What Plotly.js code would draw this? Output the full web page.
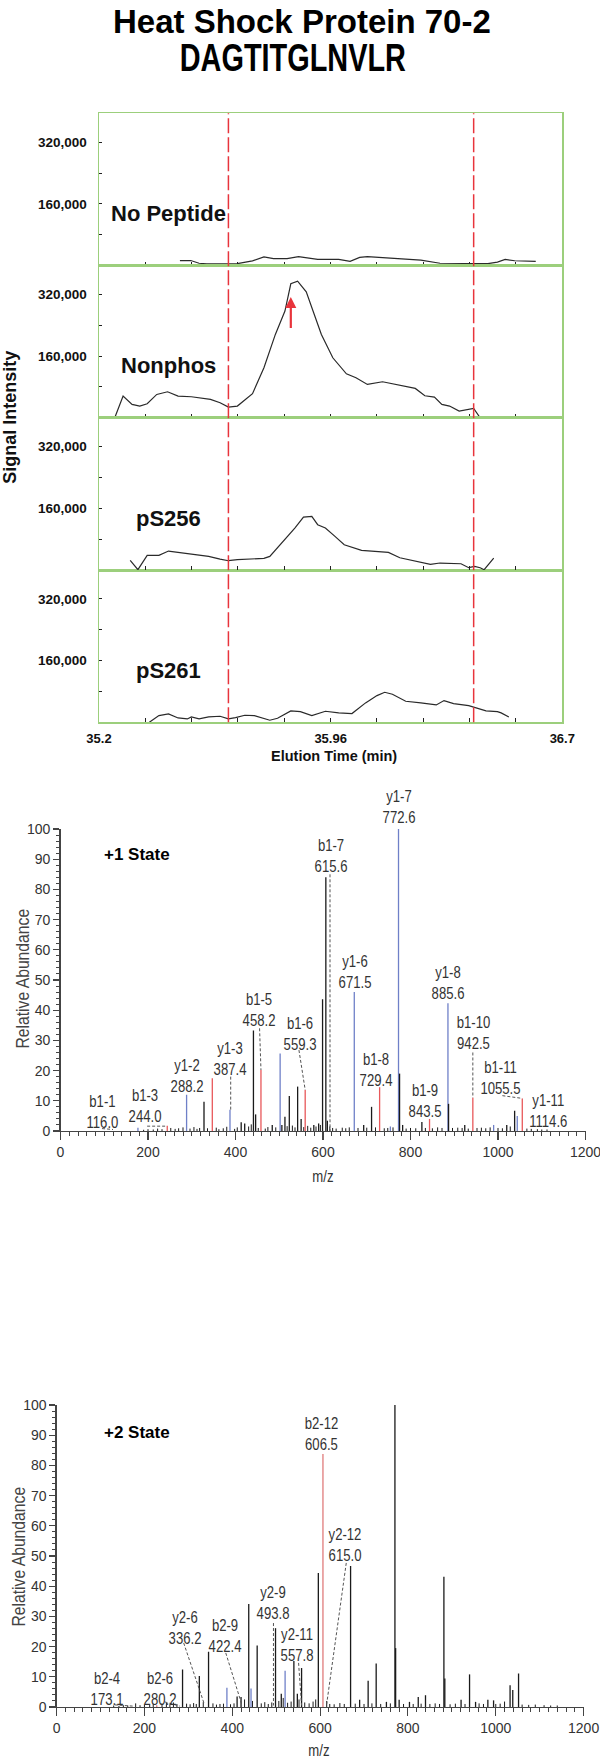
<!DOCTYPE html>
<html>
<head>
<meta charset="utf-8">
<script src="https://cdn.plot.ly/plotly-3.0.1.min.js"></script>
<style>html,body{margin:0;padding:0;background:#fff}#chart{width:600px;height:1760px}</style>
</head>
<body>
<div id="chart"></div>
<script>
// ---------------- DATA ----------------
const titleLine1 = 'Heat Shock Protein 70-2';
const titleLine2 = 'DAGTITGLNVLR';
const panelNames = ['No Peptide', 'Nonphos', 'pS256', 'pS261'];

const timeNoPeptide = [35.462,35.497,35.524,35.549,35.610,35.648,35.697,35.734,35.765,35.809,35.846,35.871,35.908,35.945,35.976,36.013,36.044,36.069,36.106,36.156,36.205,36.242,36.304,36.366,36.416,36.459,36.490,36.515,36.546,36.577,36.614];
const sigNoPeptide  = [13000,13000,6000,4500,4500,5000,12000,22500,18000,18000,23000,20500,16000,16000,16000,11000,21000,23000,21000,18000,16000,14000,6000,5000,4500,5000,9000,16000,12500,11000,11000];

const timeNonphos = [35.251,35.278,35.307,35.332,35.356,35.387,35.422,35.456,35.499,35.524,35.561,35.592,35.619,35.648,35.697,35.734,35.771,35.802,35.821,35.843,35.871,35.895,35.920,35.957,36.001,36.032,36.069,36.118,36.156,36.205,36.224,36.255,36.286,36.310,36.335,36.366,36.391,36.413,36.434];
const sigNonphos  = [0,56200,34600,30300,36300,60500,67400,56200,54500,51900,47600,38900,27700,30300,62300,129700,216200,276700,347600,354500,326900,272400,216200,155600,114100,103800,86500,93400,86500,77800,76100,57100,53600,34600,30300,17300,21600,24200,0];

const timePS256 = [35.301,35.326,35.356,35.394,35.425,35.456,35.486,35.518,35.555,35.592,35.619,35.648,35.685,35.734,35.753,35.796,35.834,35.862,35.889,35.908,35.933,35.964,35.994,36.050,36.094,36.137,36.174,36.211,36.242,36.273,36.304,36.341,36.372,36.397,36.416,36.434,36.447,36.478];
const sigPS256  = [25100,900,38000,38000,49300,45800,42400,38900,35500,28500,24200,26800,28500,30300,35500,74400,109000,137500,139200,117600,109000,87300,65700,51000,49300,45800,32000,25100,19900,14700,18200,18200,16400,6100,9500,6100,900,31100];

const timePS261 = [35.363,35.394,35.425,35.456,35.486,35.499,35.524,35.555,35.592,35.619,35.642,35.672,35.703,35.753,35.778,35.821,35.852,35.889,35.933,35.976,36.019,36.063,36.100,36.125,36.150,36.193,36.242,36.292,36.317,36.348,36.397,36.416,36.453,36.490,36.502,36.527];
const sigPS261  = [0,17300,21600,11200,8600,13800,8600,13800,15600,8600,12100,18200,17300,5200,10400,29400,27700,17300,28500,24200,22500,50200,69200,77800,72600,54500,50200,45000,56200,48400,43200,38900,29400,27700,24200,13800];

const windowTimes = [35.619, 36.413];          // red dashed integration window
const arrowTime = 35.821, arrowFrom = 229000, arrowTo = 313000;
const timeTickVals = [35.2, 35.95, 36.7];
const timeTickText = ['35.2', '35.96', '36.7'];
const sigTickVals = [160000, 320000];
const sigTickText = ['160,000', '320,000'];

// ---- +1 state spectrum ----
const s1BlueMz  = [177, 288.2, 387.4, 502, 671.5, 754, 772.6, 885.6, 990, 1044];
const s1BlueInt = [1.1, 12, 7, 25.7, 46, 1.5, 100, 42.3, 2, 5];
const s1RedMz   = [244, 347, 458.2, 559.3, 729.4, 843.5, 942.5, 1055.5];
const s1RedInt  = [1.7, 17.5, 20.2, 13.6, 14.5, 4, 11, 10.8];
const s1BlackMz  = [328, 413, 421, 441, 446, 484, 506, 513, 523, 542, 550, 579, 590, 599, 606.5, 610, 693, 711, 775, 782, 826, 887, 924, 1020, 1038];
const s1BlackInt = [9.7, 2.9, 2.5, 33.3, 5.5, 2, 2, 4.7, 11.6, 14.7, 4, 2, 2.5, 43.6, 84, 3.4, 2, 8, 19, 2, 3, 9, 2, 2, 6.7];
const s1NoiseMz  = [190,200,212,222,232,252,262,270,280,296,305,312,318,336,356,362,372,380,398,404,430,436,452,468,474,492,518,530,536,556,565,572,584,594,615.6,622,630,644,652,660,680,700,720,740,748,760,790,800,812,834,850,862,872,896,908,918,932,952,962,972,982,1000,1010,1028,1066,1076,1090,1100,1112];
const s1NoiseInt = [0.4,0.6,0.5,0.8,0.6,1.0,0.7,0.9,1.2,0.8,1.3,0.7,1.0,0.9,1.1,0.6,0.9,1.4,0.7,1.2,1.5,2.2,1.0,0.8,1.3,1.2,1.6,1.8,1.2,1.3,1.7,1.1,1.5,2.0,1.5,1.0,0.8,1.1,0.9,1.2,1.0,1.1,1.2,0.9,1.0,1.2,0.8,1.0,0.9,1.0,0.9,1.2,1.0,1.0,1.1,1.0,0.8,1.0,1.1,0.9,1.2,1.0,0.9,1.5,0.8,0.7,0.6,0.5,0.5];
const s1LabelText = ['y1-7<br>772.6','b1-7<br>615.6','y1-6<br>671.5','y1-8<br>885.6','b1-5<br>458.2','b1-6<br>559.3','b1-10<br>942.5','y1-3<br>387.4','b1-8<br>729.4','y1-2<br>288.2','b1-11<br>1055.5','b1-9<br>843.5','y1-11<br>1114.6','b1-1<br>116.0','b1-3<br>244.0'];
const s1LabelMz   = [773.7, 617.6, 673.1, 885.7, 452.8, 546.3, 942.9, 387.4, 721.1, 289.1, 1005.7, 833.1, 1114.3, 95.8, 193.8];
const s1LabelInt  = [107.3, 90.9, 52.5, 49.0, 40.1, 32.1, 32.5, 23.8, 20.2, 18.2, 17.4, 9.9, 6.6, 6.3, 8.3];
const s1LinkFromMz  = [616, 455, 545, 389, 942.5, 1010, 95, 198];
const s1LinkFromInt = [85, 34, 26.8, 18, 26, 11.7, 0.8, 1.6];
const s1LinkToMz    = [616, 458.2, 559.3, 389, 942.5, 1055.5, 120, 240];
const s1LinkToInt   = [0, 20.2, 13.6, 7, 11, 10.8, 0.5, 1.6];

// ---- +2 state spectrum ----
const s2BlueMz  = [387.8, 442.7, 520.3];
const s2BlueInt = [6.4, 6.1, 12];
const s2RedMz   = [228, 606.5];
const s2RedInt  = [0.6, 83.8];
const s2BlackMz  = [286.8, 325, 346, 411, 420, 437.5, 456.7, 498.5, 511.6, 540.3, 548.2, 557.8, 596, 669.4, 690, 709.4, 727.7, 751, 770.4, 772, 780, 803.5, 823.5, 840, 881.9, 884, 921, 940.3, 954, 982, 995, 1032.6, 1038.7, 1051.9];
const s2BlackInt = [12.4, 10.3, 18.3, 3.5, 3.3, 34.1, 20.4, 26.1, 4.4, 15.2, 4.4, 12.9, 44.4, 46.7, 2.4, 8.7, 14.4, 1.7, 100, 19.5, 2.4, 1.7, 3.3, 3.9, 43.1, 9.4, 2.4, 10.8, 1.7, 2.4, 2.2, 7.2, 5.6, 11.1];
const s2NoiseMz  = [130,142,152,162,180,190,200,212,220,240,250,258,266,274,296,304,312,318,334,356,364,372,380,396,404,428,446,466,474,482,490,506,516,526,534,552,565,575,584,590,615,622,632,645,655,680,700,718,738,760,790,812,830,850,862,872,896,908,930,962,972,1000,1010,1020,1060,1075,1090,1110,1125,1140];
const s2NoiseInt = [0.5,0.4,0.6,0.5,1.2,0.6,0.8,0.7,1.0,1.1,1.4,0.9,1.5,1.0,1.1,0.9,1.3,1.0,1.6,1.2,0.8,1.0,1.1,0.9,1.2,2.5,2.0,1.2,1.6,1.0,1.5,2.0,3.0,1.4,1.8,2.5,1.5,1.2,1.8,2.5,2.0,1.0,0.9,1.3,1.0,1.1,1.0,1.2,1.0,1.2,1.0,1.0,1.1,1.0,1.2,1.0,0.9,1.1,1.0,1.2,1.0,1.0,1.1,1.8,0.8,0.7,0.8,0.6,0.5,0.5];
const s2LabelText = ['b2-12<br>606.5','y2-12<br>615.0','y2-9<br>493.8','y2-6<br>336.2','b2-9<br>422.4','y2-11<br>557.8','b2-4<br>173.1','b2-6<br>280.2'];
const s2LabelMz   = [603.1, 656.6, 492.0, 291.7, 383.4, 546.9, 113.8, 236.1];
const s2LabelInt  = [90.4, 53.6, 34.4, 26.2, 23.5, 20.5, 6.0, 6.0];
const s2LinkFromMz  = [659.6, 493.8, 289.4, 385.2, 551, 132.5, 245.9];
const s2LinkFromInt = [47.7, 27.8, 21.2, 17.9, 14.6, 0.7, 1.7];
const s2LinkToMz    = [615.0, 493.8, 336.2, 422.4, 557.8, 173.1, 280.2];
const s2LinkToInt   = [1, 0.5, 1, 0.5, 0.5, 0.3, 0.3];

const specTitles = ['+1 State', '+2 State'];

// ---------------- LAYOUT HELPERS ----------------
const W = 600, H = 1760;
const fx = p => p / W;
const fy = p => 1 - p / H;
const BOLD = 'Liberation Sans, Arial, sans-serif';
const REG = 'Liberation Sans, Arial, sans-serif';
const GREEN = '#9ccf7c';
const RED = '#e8343c';

const panelTop = [113.3, 265.5, 417.8, 570.0];
const panelH = 152.25;
const chromLeft = 99, chromRight = 562.3;

function stems(mz, inten) {
  const x = [], y = [];
  mz.forEach((m, i) => { x.push(m, m, null); y.push(0, inten[i], null); });
  return {x, y};
}
function links(fm, fi, tm, ti) {
  const x = [], y = [];
  fm.forEach((m, i) => { x.push(m, tm[i], null); y.push(fi[i], ti[i], null); });
  return {x, y};
}

const traces = [];
const chromX = ['x2', 'x3', 'x4', 'x'];
const chromY = ['y', 'y2', 'y3', 'y4'];
const chromData = [[timeNoPeptide, sigNoPeptide], [timeNonphos, sigNonphos], [timePS256, sigPS256], [timePS261, sigPS261]];
chromData.forEach((d, i) => {
  traces.push({type: 'scatter', mode: 'lines', x: d[0], y: d[1], xaxis: chromX[i], yaxis: chromY[i],
    line: {color: '#2a2a2a', width: 1.2}, hoverinfo: 'skip'});
});

function addSpectrum(xa, ya, noise, blue, red, black, lk, redColor) {
  const add = (s, color, w) => traces.push({type: 'scatter', mode: 'lines', x: s.x, y: s.y, xaxis: xa, yaxis: ya,
    line: {color: color, width: w}, connectgaps: false, hoverinfo: 'skip'});
  add(noise, '#1a1a1a', 1);
  add(blue, '#6f80c8', 1.3);
  add(red, redColor, 1.3);
  add(black, '#1a1a1a', 1.3);
  traces.push({type: 'scatter', mode: 'lines', x: lk.x, y: lk.y, xaxis: xa, yaxis: ya,
    line: {color: '#555', width: 1, dash: '3px,2px'}, connectgaps: false, hoverinfo: 'skip'});
}
addSpectrum('x5', 'y5', stems(s1NoiseMz, s1NoiseInt), stems(s1BlueMz, s1BlueInt), stems(s1RedMz, s1RedInt),
  stems(s1BlackMz, s1BlackInt), links(s1LinkFromMz, s1LinkFromInt, s1LinkToMz, s1LinkToInt), '#e8585a');
addSpectrum('x6', 'y6', stems(s2NoiseMz, s2NoiseInt), stems(s2BlueMz, s2BlueInt), stems(s2RedMz, s2RedInt),
  stems(s2BlackMz, s2BlackInt), links(s2LinkFromMz, s2LinkFromInt, s2LinkToMz, s2LinkToInt), '#e07b7b');

// ---------------- AXES ----------------
const layout = {
  width: W, height: H, margin: {l: 0, r: 0, t: 0, b: 0},
  paper_bgcolor: '#fff', plot_bgcolor: 'rgba(0,0,0,0)', showlegend: false,
  annotations: [], shapes: []
};

function chromXAxis(anchor, labels) {
  const a = {
    domain: [fx(chromLeft), fx(chromRight)], anchor: anchor, range: [35.2, 36.7],
    showline: true, mirror: true, linecolor: GREEN, linewidth: 1.5,
    showgrid: false, zeroline: false,
    tickmode: 'array', tickvals: timeTickVals, ticktext: timeTickText,
    ticks: 'inside', ticklen: 4, tickcolor: '#222', tickwidth: 1,
    minor: {tick0: 35.2, dtick: 0.15, ticks: 'inside', ticklen: 4, tickcolor: '#222', tickwidth: 1},
    showticklabels: labels,
    tickfont: {family: BOLD, size: 13, color: '#111', weight: 700},
    ticklabelstandoff: 4, ticklabeloverflow: 'allow'
  };
  if (!labels) a.matches = 'x';
  return a;
}
layout.xaxis = chromXAxis('y4', true);
layout.xaxis2 = chromXAxis('y', false);
layout.xaxis3 = chromXAxis('y2', false);
layout.xaxis4 = chromXAxis('y3', false);

['yaxis', 'yaxis2', 'yaxis3', 'yaxis4'].forEach((k, i) => {
  layout[k] = {
    domain: [fy(panelTop[i] + panelH), fy(panelTop[i])],
    anchor: chromX[i], range: [0, 395000],
    showline: true, mirror: true, linecolor: GREEN, linewidth: 1.5,
    showgrid: false, zeroline: false,
    tickmode: 'array', tickvals: sigTickVals, ticktext: sigTickText,
    ticks: 'inside', ticklen: 3, tickcolor: '#222', tickwidth: 1,
    minor: {tick0: 0, dtick: 80000, ticks: 'inside', ticklen: 3, tickcolor: '#222', tickwidth: 1},
    tickfont: {family: BOLD, size: 13.5, color: '#111', weight: 700},
    ticklabelstandoff: 8
  };
});

function specAxes(xl, xr, yb, yt, anchorX, anchorY) {
  const common = {
    showline: true, linecolor: '#444', linewidth: 1.3, showgrid: false, zeroline: false,
    ticks: 'outside', tickcolor: '#444', tickwidth: 1.1, ticklabeloverflow: 'allow',
    tickfont: {family: REG, size: 14, color: '#333'}
  };
  const xa = Object.assign({}, common, {domain: [fx(xl), fx(xr)], anchor: anchorY, range: [0, 1200],
    tick0: 0, dtick: 200, ticklen: 8,
    minor: {tick0: 0, dtick: 20, ticks: 'outside', ticklen: 4, tickcolor: '#444', tickwidth: 1}});
  const ya = Object.assign({}, common, {domain: [fy(yb), fy(yt)], anchor: anchorX, range: [0, 100],
    tick0: 0, dtick: 10, ticklen: 6,
    minor: {tick0: 0, dtick: 2, ticks: 'outside', ticklen: 3, tickcolor: '#444', tickwidth: 1}});
  return [xa, ya];
}
[layout.xaxis5, layout.yaxis5] = specAxes(60.5, 585.5, 1131, 829, 'x5', 'y5');
[layout.xaxis6, layout.yaxis6] = specAxes(56.6, 583.6, 1707, 1405, 'x6', 'y6');

// data -> paper conversion (for labels that may sit above the axis range)
function paperPos(xa, ya, xv, yv) {
  const px = xa.domain[0] + (xv - xa.range[0]) / (xa.range[1] - xa.range[0]) * (xa.domain[1] - xa.domain[0]);
  const py = ya.domain[0] + (yv - ya.range[0]) / (ya.range[1] - ya.range[0]) * (ya.domain[1] - ya.domain[0]);
  return [px, py];
}

// ---------------- SHAPES ----------------
windowTimes.forEach(t => {
  layout.shapes.push({type: 'line', xref: 'x', yref: 'paper', x0: t, x1: t,
    y0: fy(panelTop[3] + panelH), y1: fy(panelTop[0]),
    line: {color: RED, width: 1.5, dash: '15px,4px'}});
});

// ---------------- ANNOTATIONS ----------------
const A = layout.annotations;
const squeeze = [];   // [annotation index, horizontal scale]
A.push({xref: 'paper', yref: 'paper', x: fx(302), y: fy(21), text: titleLine1, showarrow: false,
  font: {family: BOLD, size: 33, color: '#000', weight: 700}, xanchor: 'center', yanchor: 'middle'});
squeeze.push([A.length, 0.76]);
A.push({xref: 'paper', yref: 'paper', x: fx(293), y: fy(58), text: titleLine2, showarrow: false,
  font: {family: BOLD, size: 38, color: '#000', weight: 700}, xanchor: 'center', yanchor: 'middle'});

panelNames.forEach((n, i) => {
  A.push({xref: 'paper', yref: chromY[i], x: fx(168), y: 135000, text: n, showarrow: false,
    font: {family: BOLD, size: 22, color: '#111', weight: 700}, xanchor: 'center', yanchor: 'middle'});
});
A.push({xref: 'x3', yref: 'y2', axref: 'x3', ayref: 'y2', x: arrowTime, y: arrowTo, ax: arrowTime, ay: arrowFrom,
  text: '', showarrow: true, arrowhead: 2, arrowsize: 1, arrowwidth: 2.2, arrowcolor: RED});
A.push({xref: 'paper', yref: 'paper', x: fx(10), y: fy((panelTop[0] + panelTop[3] + panelH) / 2), text: 'Signal Intensity',
  textangle: -90, showarrow: false, font: {family: BOLD, size: 18, color: '#111', weight: 700}, xanchor: 'center', yanchor: 'middle'});
A.push({xref: 'paper', yref: 'paper', x: fx(334), y: fy(756), text: 'Elution Time (min)', showarrow: false,
  font: {family: BOLD, size: 14.5, color: '#111', weight: 700}, xanchor: 'center', yanchor: 'middle'});

function specAnnots(xa, ya, texts, mzs, ints, title, titleY, axisY, axisX, abY, abX) {
  texts.forEach((t, i) => {
    const p = paperPos(xa, ya, mzs[i], ints[i]);
    squeeze.push([A.length, 0.82]);
    A.push({xref: 'paper', yref: 'paper', x: p[0], y: p[1], text: t, showarrow: false,
      font: {family: REG, size: 16, color: '#333'}, xanchor: 'center', yanchor: 'middle', align: 'center'});
  });
  A.push({xref: 'paper', yref: 'paper', x: fx(137), y: fy(titleY), text: title, showarrow: false,
    font: {family: BOLD, size: 17, color: '#000', weight: 700}, xanchor: 'center', yanchor: 'middle'});
  squeeze.push([A.length, 0.82]);
  A.push({xref: 'paper', yref: 'paper', x: fx(axisX), y: fy(axisY), text: 'm/z', showarrow: false,
    font: {family: REG, size: 16, color: '#333'}, xanchor: 'center', yanchor: 'middle'});
  squeeze.push([A.length, 0.85]);
  A.push({xref: 'paper', yref: 'paper', x: fx(abX), y: fy(abY), text: 'Relative Abundance', textangle: -90, showarrow: false,
    font: {family: REG, size: 18.5, color: '#444'}, xanchor: 'center', yanchor: 'middle'});
}
specAnnots(layout.xaxis5, layout.yaxis5, s1LabelText, s1LabelMz, s1LabelInt, specTitles[0], 854, 1176, 323, 979, 22);
specAnnots(layout.xaxis6, layout.yaxis6, s2LabelText, s2LabelMz, s2LabelInt, specTitles[1], 1432, 1750, 319, 1557, 18);

const gd = document.getElementById('chart');
Plotly.newPlot(gd, traces, layout, {staticPlot: true, displayModeBar: false}).then(() => {
  // condensed lettering, as in the reference (no narrow font is installed)
  squeeze.forEach(([idx, s]) => {
    const t = gd.querySelector('.annotation[data-index="' + idx + '"] .annotation-text');
    if (t) {
      t.style.transformBox = 'fill-box';
      t.style.transformOrigin = '50% 50%';
      t.style.transform = 'scaleX(' + s + ')';
    }
  });
});
</script>
</body>
</html>
